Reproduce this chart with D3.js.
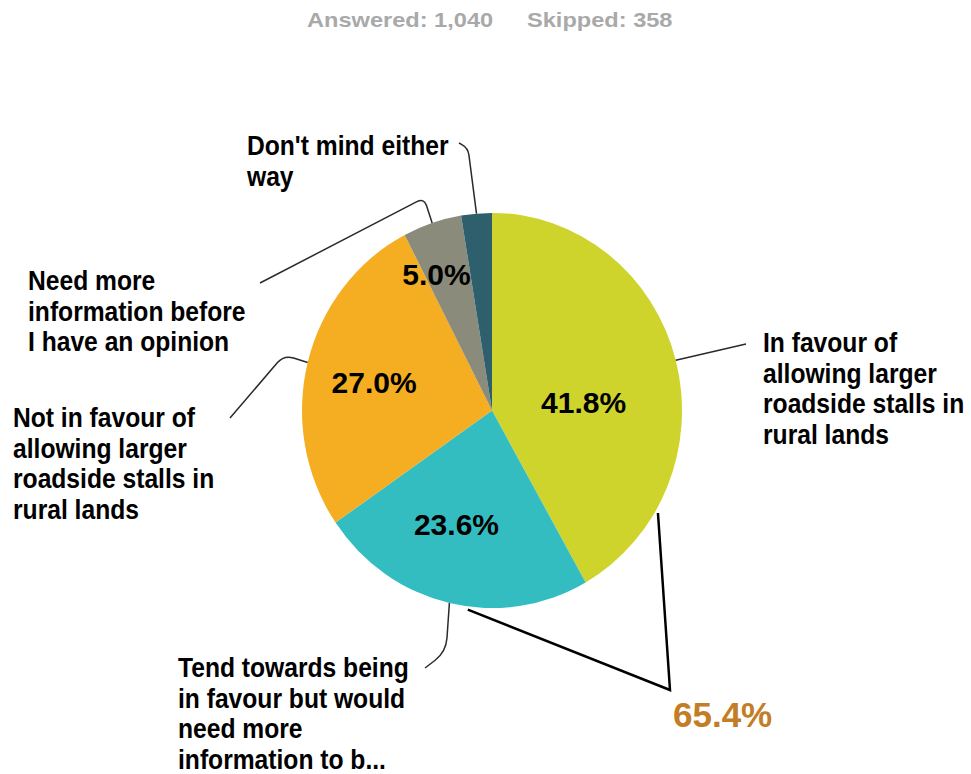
<!DOCTYPE html>
<html>
<head>
<meta charset="utf-8">
<script src="https://cdn.jsdelivr.net/npm/d3@7"></script>
<style>
  html, body { margin: 0; padding: 0; background: #fff; }
  svg { display: block; font-family: "Liberation Sans", Arial, sans-serif; }
</style>
</head>
<body>
<svg id="chart" width="971" height="774"></svg>
<script>
// ---- data ----
const categories = [
  "In favour of allowing larger roadside stalls in rural lands",
  "Tend towards being in favour but would need more information to b...",
  "Not in favour of allowing larger roadside stalls in rural lands",
  "Need more information before I have an opinion",
  "Don't mind either way"
];
const labelLines = [
  ["In favour of", "allowing larger", "roadside stalls in", "rural lands"],
  ["Tend towards being", "in favour but would", "need more", "information to b..."],
  ["Not in favour of", "allowing larger", "roadside stalls in", "rural lands"],
  ["Need more", "information before", "I have an opinion"],
  ["Don't mind either", "way"]
];
const percentages = [41.8, 23.6, 27.0, 5.0, 2.6];
const sliceColors = ["#ced42b", "#33bdc1", "#f5ae22", "#8b8b7b", "#2d5f6d"];
const answered = 1040;
const skipped = 358;
const combinedIdx = [0, 1]; // slices summed in the bracket callout

// ---- layout ----
const W = 971, H = 774;
const cx = 492, cy = 410.5, R = 190, sy = 1.04;
const pctLabelAt = [[85, 92], [198, 115], [283, 121], [337, 142], null]; // [deg, radius]
// leader elbows and ends for each category label
const leaders = [
  { elbow: null, end: [746, 344], r: 0 },
  { elbow: [446, 652], end: [425, 668], r: 14 },
  { elbow: [284, 355], end: [230, 418], r: 10 },
  { elbow: [424, 198], end: [260, 283], r: 8 },
  { elbow: [468, 148], end: [459, 143], r: 7 }
];
const labelAnchors = [[763, 352], [178, 677], [13, 427], [28, 290], [247, 155]];
const lineGap = 30.6;
const bracketAngles = [120.7, 187.2];
const bracketApex = [670, 690];

const svg = d3.select("#chart");

// header counts
const fmt = d3.format(",");
const header = svg.append("g").attr("fill", "#a9a9a9")
  .style("font-weight", "bold").style("font-size", "20px");
header.append("text").attr("transform", "translate(307,27) scale(1.18,1)")
  .text(`Answered: ${fmt(answered)}`);
header.append("text").attr("transform", "translate(527,27) scale(1.18,1)")
  .text(`Skipped: ${fmt(skipped)}`);

// pie
const pie = d3.pie().sort(null).value(d => d);
const arcs = pie(percentages);
const arc = d3.arc().innerRadius(0).outerRadius(R);

const pieG = svg.append("g")
  .attr("transform", `translate(${cx},${cy}) scale(1,${sy})`);
pieG.selectAll("path").data(arcs).join("path")
  .attr("d", arc)
  .attr("fill", (d, i) => sliceColors[i]);

// page position of a point at angle a (radians, clockwise from top) and radius r
function polar(a, r) {
  return [cx + r * Math.sin(a), cy - r * Math.cos(a) * sy];
}

// percentage labels inside the slices
const pctFmt = d => d.toFixed(1) + "%";
svg.append("g").selectAll("text").data(arcs.filter((d, i) => pctLabelAt[i]))
  .join("text")
  .each(function(d) {
    const [deg, rr] = pctLabelAt[d.index];
    const [x, y] = polar(deg * Math.PI / 180, rr);
    d3.select(this).attr("x", x).attr("y", y + 10.5);
  })
  .attr("text-anchor", "middle")
  .style("font-weight", "bold").style("font-size", "30px")
  .attr("fill", "#000")
  .text(d => pctFmt(d.data));

// leader lines with a rounded elbow
function leaderPath(p0, elbow, end, rad) {
  if (!elbow) return `M${p0[0]},${p0[1]}L${end[0]},${end[1]}`;
  const u1 = [elbow[0] - p0[0], elbow[1] - p0[1]];
  const u2 = [end[0] - elbow[0], end[1] - elbow[1]];
  const l1 = Math.hypot(...u1), l2 = Math.hypot(...u2);
  const r1 = Math.min(rad, l1 * 0.9), r2 = Math.min(rad, l2 * 0.9);
  const a = [elbow[0] - u1[0] / l1 * r1, elbow[1] - u1[1] / l1 * r1];
  const b = [elbow[0] + u2[0] / l2 * r2, elbow[1] + u2[1] / l2 * r2];
  return `M${p0[0]},${p0[1]}L${a[0]},${a[1]}Q${elbow[0]},${elbow[1]} ${b[0]},${b[1]}L${end[0]},${end[1]}`;
}
svg.append("g").selectAll("path").data(arcs).join("path")
  .attr("d", (d, i) => {
    const mid = (d.startAngle + d.endAngle) / 2;
    const L = leaders[i];
    return leaderPath(polar(mid, R), L.elbow, L.end, L.r);
  })
  .attr("fill", "none").attr("stroke", "#2a2a2a").attr("stroke-width", 1.5);

// category labels
const lab = svg.append("g").selectAll("text").data(categories).join("text")
  .attr("transform", (d, i) => `translate(${labelAnchors[i][0]},${labelAnchors[i][1]}) scale(0.88,1)`)
  .style("font-weight", "bold").style("font-size", "28px")
  .attr("fill", "#000");
lab.each(function(d, i) {
  d3.select(this).selectAll("tspan").data(labelLines[i]).join("tspan")
    .attr("x", 0).attr("y", (t, j) => j * lineGap).text(t => t);
});

// bracket callout for the combined share
const combined = d3.sum(combinedIdx, i => percentages[i]);
const bA = polar(bracketAngles[0] * Math.PI / 180, R + 3);
const bB = polar(bracketAngles[1] * Math.PI / 180, R + 3);
svg.append("path")
  .attr("d", `M${bA[0]},${bA[1]}L${bracketApex[0]},${bracketApex[1]}L${bB[0]},${bB[1]}`)
  .attr("fill", "none").attr("stroke", "#000").attr("stroke-width", 2.5)
  .attr("stroke-linejoin", "miter");
svg.append("text")
  .attr("x", bracketApex[0] + 3).attr("y", bracketApex[1] + 37)
  .style("font-weight", "bold").style("font-size", "35px")
  .attr("fill", "#c27d26")
  .text(combined.toFixed(1) + "%");
</script>
</body>
</html>
